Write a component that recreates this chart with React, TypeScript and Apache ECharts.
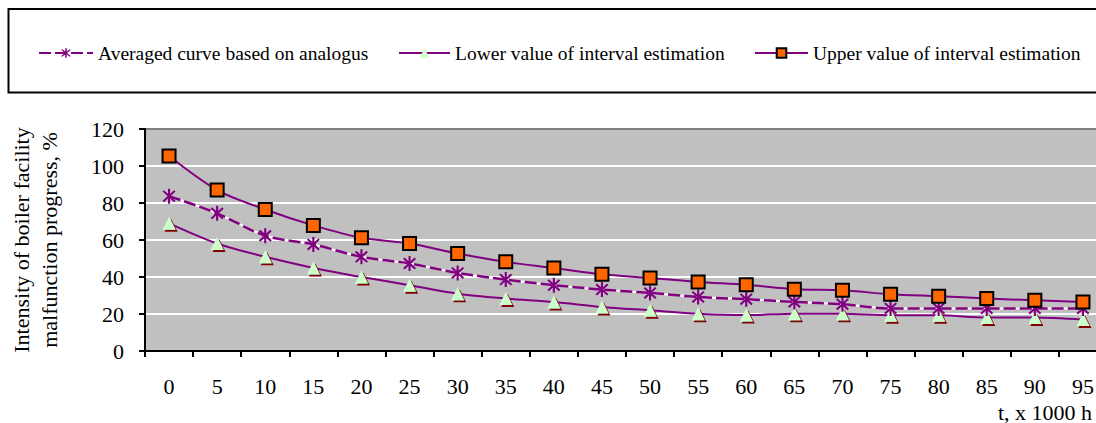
import React, { useEffect, useRef } from "react";
import * as echarts from "echarts";

const categories = ["0", "5", "10", "15", "20", "25", "30", "35", "40", "45", "50", "55", "60", "65", "70", "75", "80", "85", "90", "95"];
const averaged = [83.7, 74.4, 62.3, 57.6, 50.9, 47.3, 42.2, 38.6, 35.6, 33.2, 31.4, 29.2, 28.0, 26.5, 25.3, 23.0, 23.0, 23.0, 23.0, 23.0];
const lower = [69, 58.1, 50.9, 44.9, 40, 35.6, 31, 28.4, 26.5, 23.8, 22, 20.2, 19.4, 20.2, 20.2, 19.3, 19.3, 18.1, 18.1, 17];
const upper = [105.4, 87, 76.5, 67.9, 61.2, 58.1, 52.7, 48.2, 44.9, 41.5, 39.5, 37.3, 35.8, 33.4, 32.8, 30.7, 29.6, 28.4, 27.4, 26.5];
const yTicks = { min: 0, max: 120, interval: 20 };
const seriesNames = ["Averaged curve based on analogus", "Lower value of interval estimation", "Upper value of interval estimation"];
const xTitle = "t, x 1000 h";
const yTitle = "Intensity of boiler facility\nmalfunction progress, %";

const FONT = "Liberation Serif";
const PURPLE = "#800080";

const starPath =
  "path://M-1.3,-10 L1.3,-10 L1.3,10 L-1.3,10 Z " +
  "M-7.99,-6.15 L-6.15,-7.99 L7.99,6.15 L6.15,7.99 Z " +
  "M-6.15,7.99 L-7.99,6.15 L6.15,-7.99 L7.99,-6.15 Z";

export default function App() {
  const ref = useRef<HTMLDivElement>(null);
  useEffect(() => {
    if (!ref.current) return;
    const chart = echarts.init(ref.current, null, { renderer: "svg" });
    const legendText = { fontFamily: FONT, fontSize: 19.5, color: "#000" };
    const legendBase = {
      top: 43,
      itemHeight: 12,
      padding: 0,
      textStyle: legendText,
      selectedMode: false,
    };
    chart.setOption({
      animation: false,
      backgroundColor: "#fff",
      textStyle: { fontFamily: FONT },
      grid: {
        left: 145,
        right: -11,
        top: 129,
        bottom: 72,
        show: true,
        backgroundColor: "#c0c0c0",
        borderWidth: 0,
        containLabel: false,
        outerBoundsMode: "none",
      },
      legend: [
        { ...legendBase, data: [seriesNames[0]], left: 38, itemWidth: 54 },
        { ...legendBase, data: [seriesNames[1]], left: 398, itemWidth: 51 },
        { ...legendBase, data: [seriesNames[2]], left: 754, itemWidth: 53 },
      ],
      graphic: [
        {
          type: "rect",
          shape: { x: 8.5, y: 9, width: 1100, height: 83.5 },
          style: { fill: "none", stroke: "#000", lineWidth: 2 },
          silent: true,
        },
        {
          type: "text",
          right: 4,
          top: 401,
          style: { text: xTitle, font: `22px "${FONT}"`, fill: "#000", textAlign: "right" },
        },
      ],
      xAxis: {
        type: "category",
        data: categories,
        boundaryGap: true,
        axisLine: { lineStyle: { color: "#000", width: 2 } },
        axisTick: { show: true, length: 6, lineStyle: { color: "#000", width: 2 } },
        axisLabel: { fontFamily: FONT, fontSize: 22, color: "#000", margin: 24 },
        splitLine: { show: false },
      },
      yAxis: {
        type: "value",
        min: yTicks.min,
        max: yTicks.max,
        interval: yTicks.interval,
        name: yTitle,
        nameLocation: "middle",
        nameRotate: 90,
        nameGap: 82,
        nameTextStyle: { fontFamily: FONT, fontSize: 22, color: "#000", lineHeight: 28 },
        axisLine: { show: true, lineStyle: { color: "#000", width: 2 } },
        axisTick: { show: true, length: 6, lineStyle: { color: "#000", width: 2 } },
        axisLabel: { fontFamily: FONT, fontSize: 22, color: "#000", margin: 21 },
        splitLine: {
          show: true,
          lineStyle: {
            color: ["#ffffff", "#ffffff", "#ffffff", "#ffffff", "#ffffff", "#ffffff", "#808080"],
            width: 2,
          },
        },
      },
      series: [
        {
          name: "_underlay",
          type: "line",
          data: averaged,
          smooth: 0.3,
          symbol: "none",
          silent: true,
          lineStyle: { color: "#ffffff", width: 2 },
          z: 1,
        },
        {
          name: seriesNames[0],
          type: "line",
          data: averaged,
          smooth: 0.3,
          symbol: starPath,
          symbolSize: [13, 15],
          itemStyle: { color: PURPLE },
          lineStyle: { color: PURPLE, width: 2.5, type: [12, 4] },
          z: 3,
        },
        {
          name: seriesNames[1],
          type: "line",
          data: lower,
          smooth: 0.3,
          symbol: "triangle",
          symbolSize: 13,
          itemStyle: {
            color: "#ccffcc",
            shadowColor: "#800000",
            shadowOffsetX: 2,
            shadowOffsetY: 2,
            shadowBlur: 0,
          },
          lineStyle: { color: PURPLE, width: 2, shadowBlur: 0, shadowOffsetX: 0, shadowOffsetY: 0, shadowColor: "transparent" },
          z: 2,
        },
        {
          name: seriesNames[2],
          type: "line",
          data: upper,
          smooth: 0.3,
          symbol: "rect",
          symbolSize: 13,
          itemStyle: { color: "#ff6600", borderColor: "#000", borderWidth: 2 },
          lineStyle: { color: PURPLE, width: 2 },
          z: 4,
        },
      ],
    });
    return () => chart.dispose();
  }, []);
  return (
    <div
      ref={ref}
      style={{ position: "absolute", left: 0, top: 0, width: 1096, height: 423 }}
    />
  );
}
